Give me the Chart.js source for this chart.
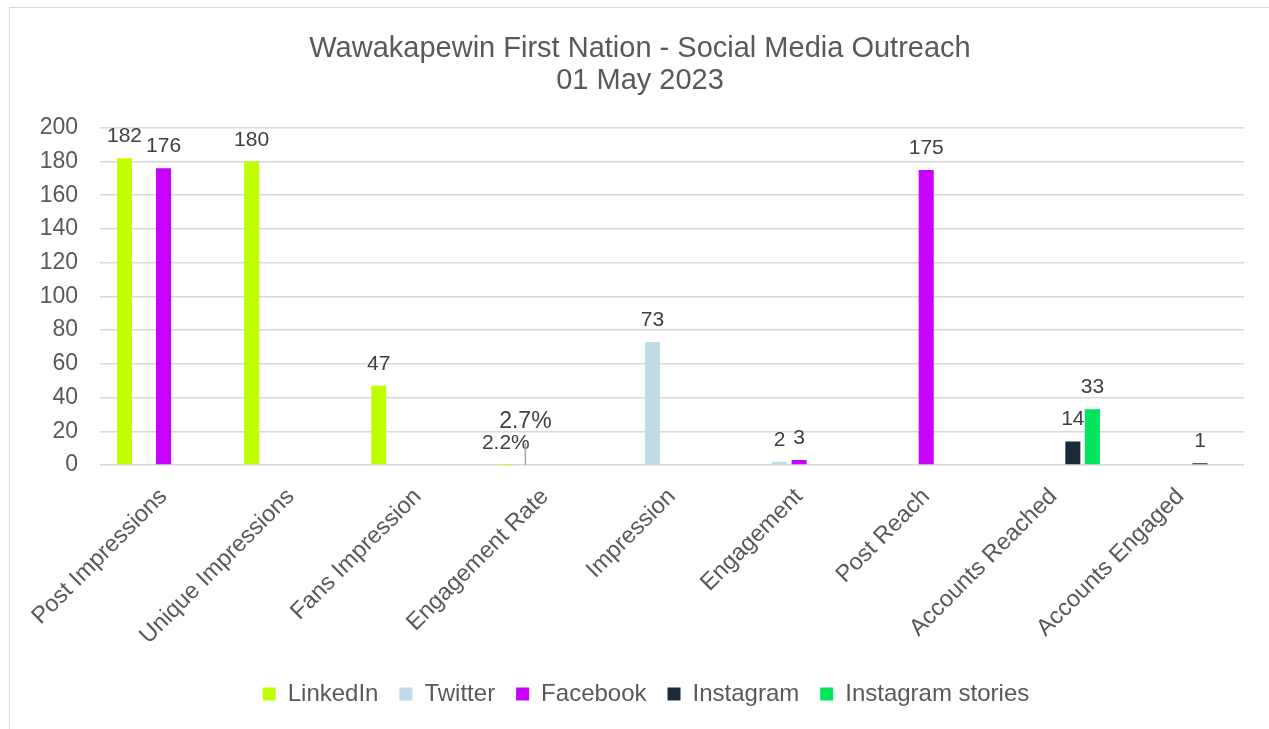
<!DOCTYPE html>
<html>
<head>
<meta charset="utf-8">
<script src="https://cdn.jsdelivr.net/npm/chart.js@4/dist/chart.umd.min.js"></script>
<style>
  html, body { margin: 0; padding: 0; background: #ffffff; overflow: hidden; }
  #wrap { position: absolute; left: 0; top: 0; width: 1269px; height: 729px; }
  #frame { position: absolute; left: 9px; top: 7px; width: 1300px; height: 760px; border: 1px solid #d9d9d9; box-sizing: border-box; }
  canvas { position: absolute; left: 0; top: 0; }
</style>
</head>
<body>
<div id="wrap">
  <div id="frame"></div>
  <canvas id="c" width="1269" height="729"></canvas>
</div>
<script>
const titleLines = ["Wawakapewin First Nation - Social Media Outreach", "01 May 2023"];
const categories = ["Post Impressions", "Unique Impressions", "Fans Impression", "Engagement Rate", "Impression", "Engagement", "Post Reach", "Accounts Reached", "Accounts Engaged"];
const seriesNames = ["LinkedIn", "Twitter", "Facebook", "Instagram", "Instagram stories"];
const seriesColors = ["#bfff00", "#bfdbe5", "#c800ff", "#1b2a37", "#00e65c"];
const linkedIn = [182, 180, 47, 0.022, null, null, null, null, null];
const twitter = [null, null, null, 0.027, 73, 2, null, null, null];
const facebook = [176, null, null, null, null, 3, 175, null, null];
const instagram = [null, null, null, null, null, null, null, 14, 1];
const instagramStories = [null, null, null, null, null, null, null, 33, null];
const percentCategory = "Engagement Rate";
const yTicks = [0, 20, 40, 60, 80, 100, 120, 140, 160, 180, 200];

const seriesValues = [linkedIn, twitter, facebook, instagram, instagramStories];
const FONT = "'Liberation Sans', Arial, sans-serif";
const TEXT = "#595959";

const labelPlugin = {
  id: "barLabels",
  afterDatasetsDraw(chart) {
    const ctx = chart.ctx;
    ctx.save();
    ctx.textAlign = "center";
    ctx.textBaseline = "alphabetic";
    ctx.fillStyle = "#404040";
    chart.data.datasets.forEach((ds, di) => {
      const meta = chart.getDatasetMeta(di);
      meta.data.forEach((el, i) => {
        const v = ds.data[i];
        if (v === null || v === undefined) return;
        const isPct = chart.data.labels[i] === percentCategory;
        let txt = isPct ? (v * 100).toFixed(1) + "%" : String(v);
        let size = 21;
        let y = el.y - 16;
        if (isPct && di === 1) {
          size = 23;
          y = el.y - 37;
          ctx.save();
          ctx.strokeStyle = "#a6a6a6";
          ctx.lineWidth = 1.5;
          ctx.beginPath();
          ctx.moveTo(el.x, el.y);
          ctx.lineTo(el.x, y + 15);
          ctx.stroke();
          ctx.restore();
        }
        ctx.font = size + "px " + FONT;
        ctx.fillText(txt, el.x, y);
      });
    });
    ctx.restore();
  }
};

// shift title / legend horizontally to sit where the reference has them
const shiftPlugin = {
  id: "shiftBoxes",
  afterLayout(chart) {
    const t = chart.titleBlock;
    if (t) { t.left += 13; t.right += 13; }
    const l = chart.legend;
    if (l) { l.left += 19; l.right += 19; }
  }
};

new Chart(document.getElementById("c"), {
  type: "bar",
  data: {
    labels: categories,
    datasets: seriesNames.map((n, k) => ({
      label: n,
      data: seriesValues[k],
      backgroundColor: seriesColors[k],
      borderWidth: 0,
      categoryPercentage: 0.768,
      barPercentage: 0.77
    }))
  },
  options: {
    responsive: false,
    animation: false,
    devicePixelRatio: 1,
    layout: { padding: { top: 20, left: 10, right: 25, bottom: 13 } },
    plugins: {
      title: {
        display: true,
        text: titleLines,
        color: TEXT,
        font: { family: FONT, size: 29, weight: "normal", lineHeight: 1.1 },
        padding: { top: 13, bottom: 31 }
      },
      legend: {
        display: true,
        position: "bottom",
        labels: {
          color: TEXT,
          font: { family: FONT, size: 24 },
          boxWidth: 13,
          boxHeight: 13,
          padding: 21
        }
      },
      tooltip: { enabled: false }
    },
    scales: {
      x: {
        grid: { display: false, drawTicks: false },
        border: { display: false },
        ticks: {
          color: TEXT,
          font: { family: FONT, size: 23.5 },
          maxRotation: 45,
          minRotation: 45,
          autoSkip: false,
          padding: 18
        },
        afterFit(s) { s.height = 196; }
      },
      y: {
        min: 0,
        max: 200,
        afterBuildTicks(s) { s.ticks = yTicks.map(v => ({ value: v })); },
        grid: { color: "#d9d9d9", lineWidth: 1.5, drawTicks: false },
        border: { display: false },
        ticks: {
          color: TEXT,
          font: { family: FONT, size: 23 },
          padding: 22
        },
        afterFit(s) { s.width = 90; }
      }
    }
  },
  plugins: [labelPlugin, shiftPlugin]
});
</script>
</body>
</html>
